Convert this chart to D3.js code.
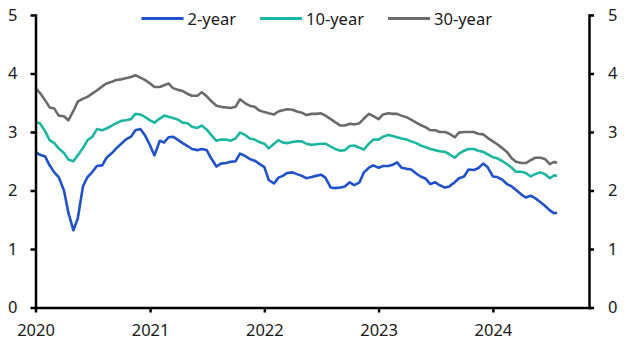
<!DOCTYPE html>
<html>
<head>
<meta charset="utf-8">
<script src="https://cdnjs.cloudflare.com/ajax/libs/d3/7.8.5/d3.min.js"></script>
<style>
  html, body { margin: 0; padding: 0; background: #ffffff; }
  #chart { width: 628px; height: 354px; }
  .axis path, .axis line { stroke: #000000; stroke-width: 2.5px; }
  .axis text { font-family: "Noto Sans", "Open Sans", sans-serif; font-size: 16.5px; fill: #1a1a1a; }
  .legend text { font-family: "Noto Sans", "Open Sans", sans-serif; font-size: 16.5px; fill: #1a1a1a; }
</style>
</head>
<body>
<div id="chart"></div>
<script>
// ----------------------------------------------------------------------------------------------------
// DATA - yields, % (semi-monthly readings)
// ----------------------------------------------------------------------------------------------------

var dates = [
    "2020-01-01","2020-01-15","2020-02-01","2020-02-15","2020-03-01","2020-03-15","2020-04-01","2020-04-15","2020-05-01","2020-05-15","2020-06-01","2020-06-15",
    "2020-07-01","2020-07-15","2020-08-01","2020-08-15","2020-09-01","2020-09-15","2020-10-01","2020-10-15","2020-11-01","2020-11-15","2020-12-01","2020-12-15",
    "2021-01-01","2021-01-15","2021-02-01","2021-02-15","2021-03-01","2021-03-15","2021-04-01","2021-04-15","2021-05-01","2021-05-15","2021-06-01","2021-06-15",
    "2021-07-01","2021-07-15","2021-08-01","2021-08-15","2021-09-01","2021-09-15","2021-10-01","2021-10-15","2021-11-01","2021-11-15","2021-12-01","2021-12-15",
    "2022-01-01","2022-01-15","2022-02-01","2022-02-15","2022-03-01","2022-03-15","2022-04-01","2022-04-15","2022-05-01","2022-05-15","2022-06-01","2022-06-15",
    "2022-07-01","2022-07-15","2022-08-01","2022-08-15","2022-09-01","2022-09-15","2022-10-01","2022-10-15","2022-11-01","2022-11-15","2022-12-01","2022-12-15",
    "2023-01-01","2023-01-15","2023-02-01","2023-02-15","2023-03-01","2023-03-15","2023-04-01","2023-04-15","2023-05-01","2023-05-15","2023-06-01","2023-06-15",
    "2023-07-01","2023-07-15","2023-08-01","2023-08-15","2023-09-01","2023-09-15","2023-10-01","2023-10-15","2023-11-01","2023-11-15","2023-12-01","2023-12-15",
    "2024-01-01","2024-01-15","2024-02-01","2024-02-15","2024-03-01","2024-03-15","2024-04-01","2024-04-15","2024-05-01","2024-05-15","2024-06-01","2024-06-15",
    "2024-07-01","2024-07-15","2024-07-24"
];

var twoYear = [
    2.66,2.61,2.58,2.43,2.31,2.23,2.00,1.62,1.32,1.52,2.08,2.23,2.32,2.42,2.43,2.56,2.64,2.72,2.80,2.87,2.92,3.03,3.05,2.95,
    2.77,2.60,2.85,2.82,2.91,2.92,2.86,2.81,2.76,2.71,2.69,2.71,2.69,2.55,2.41,2.46,2.47,2.49,2.50,2.63,2.59,2.54,2.51,2.46,
    2.40,2.18,2.12,2.22,2.25,2.30,2.31,2.28,2.25,2.21,2.23,2.25,2.27,2.22,2.05,2.04,2.05,2.07,2.14,2.09,2.14,2.31,2.39,2.43,
    2.39,2.42,2.42,2.44,2.48,2.39,2.37,2.36,2.29,2.24,2.20,2.11,2.14,2.09,2.05,2.07,2.14,2.21,2.24,2.36,2.35,2.38,2.46,2.40,
    2.24,2.23,2.18,2.11,2.07,2.01,1.93,1.88,1.91,1.87,1.80,1.74,1.66,1.61,1.62
];

var tenYear = [
    3.17,3.15,3.01,2.86,2.81,2.72,2.64,2.53,2.50,2.60,2.73,2.86,2.92,3.05,3.03,3.06,3.11,3.15,3.19,3.20,3.22,3.31,3.30,3.26,
    3.20,3.16,3.23,3.28,3.26,3.24,3.21,3.16,3.15,3.09,3.07,3.11,3.04,2.95,2.85,2.87,2.87,2.85,2.89,2.99,2.95,2.89,2.87,2.83,
    2.80,2.72,2.80,2.86,2.82,2.81,2.83,2.84,2.84,2.80,2.78,2.79,2.80,2.80,2.75,2.71,2.68,2.69,2.76,2.77,2.73,2.70,2.80,2.87,
    2.87,2.92,2.95,2.93,2.91,2.89,2.87,2.84,2.81,2.77,2.74,2.71,2.69,2.67,2.66,2.62,2.56,2.63,2.68,2.71,2.71,2.68,2.66,2.62,
    2.57,2.55,2.50,2.45,2.39,2.32,2.32,2.30,2.24,2.28,2.31,2.28,2.21,2.26,2.25
];

var thirtyYear = [
    3.75,3.67,3.54,3.42,3.40,3.28,3.27,3.20,3.36,3.52,3.57,3.60,3.66,3.71,3.78,3.83,3.86,3.89,3.90,3.92,3.94,3.97,3.93,3.89,
    3.83,3.77,3.77,3.80,3.83,3.75,3.72,3.70,3.65,3.62,3.62,3.68,3.61,3.53,3.45,3.43,3.42,3.41,3.43,3.56,3.49,3.45,3.43,3.37,
    3.34,3.32,3.30,3.35,3.37,3.39,3.38,3.35,3.33,3.29,3.31,3.31,3.32,3.28,3.22,3.17,3.11,3.11,3.14,3.13,3.15,3.23,3.31,3.27,
    3.22,3.30,3.32,3.31,3.31,3.28,3.25,3.21,3.16,3.12,3.08,3.03,3.03,3.00,3.00,2.97,2.91,2.99,3.00,3.00,3.00,2.97,2.96,2.90,
    2.84,2.79,2.72,2.66,2.55,2.49,2.47,2.47,2.52,2.56,2.56,2.54,2.45,2.49,2.47
];

var seriesNames = ["2-year", "10-year", "30-year"];
var seriesColors = ["#2152c9", "#1db7a1", "#6b6b6b"];
var yTicks = [0, 1, 2, 3, 4, 5];
var xTickYears = ["2020", "2021", "2022", "2023", "2024"];

// ----------------------------------------------------------------------------------------------------
// CHART
// ----------------------------------------------------------------------------------------------------

function chartYields_Draw(ele) {
    ele = "#" + ele;

    var w = 628;
    var h = 354;
    var left = 35.5, right = 589, top = 15, bottom = 307.5;

    var parse = d3.timeParse("%Y-%m-%d");
    var t = dates.map(parse);

    var x = d3.scaleTime()
        .domain([parse("2020-01-01"), parse("2024-11-03")])
        .range([left, right]);
    var y = d3.scaleLinear()
        .domain([0, 5])
        .range([bottom, top]);

    var svg = d3.select(ele)
        .append("svg")
        .attr("width", w)
        .attr("height", h);

        // Lines
        var values = [twoYear, tenYear, thirtyYear];
        var line = d3.line()
            .x(function(d, i) { return x(t[i]); })
            .y(function(d) { return y(d); });

        svg.selectAll(".series")
            .data(values)
            .enter()
            .append("path")
            .attr("class", "series")
            .attr("fill", "none")
            .attr("stroke", function(d, i) { return seriesColors[i]; })
            .attr("stroke-width", 2.6)
            .attr("stroke-linejoin", "round")
            .attr("d", line);

        // Axes
        svg.append("g")
            .attr("class", "axis")
            .attr("transform", "translate(" + left + ",0)")
            .call(d3.axisLeft(y).tickValues(yTicks).tickSize(5).tickSizeOuter(0).tickPadding(13).tickFormat(d3.format("d")));

        svg.append("g")
            .attr("class", "axis")
            .attr("transform", "translate(" + right + ",0)")
            .call(d3.axisRight(y).tickValues(yTicks).tickSize(5).tickSizeOuter(0).tickPadding(14).tickFormat(d3.format("d")));

        svg.append("g")
            .attr("class", "axis")
            .attr("transform", "translate(0," + bottom + ")")
            .call(d3.axisBottom(x)
                .tickValues(xTickYears.map(function(d) { return parse(d + "-01-01"); }))
                .tickSize(5).tickSizeOuter(0).tickPadding(12)
                .tickFormat(d3.timeFormat("%Y")));

        svg.selectAll(".axis .domain").attr("stroke-linecap", "square");

        // Legend
        var legendX = [141.5, 260, 388];
        var legend = svg.selectAll(".legend")
            .data(seriesNames)
            .enter()
            .append("g")
            .attr("class", "legend")
            .attr("transform", function(d, i) { return "translate(" + legendX[i] + ",18.5)"; });

        legend.append("line")
            .attr("x1", 0)
            .attr("x2", 42)
            .attr("stroke", function(d, i) { return seriesColors[i]; })
            .attr("stroke-width", 3);

        legend.append("text")
            .attr("x", 46)
            .attr("y", 6.5)
            .text(function(d) { return d; });
}

chartYields_Draw("chart");
</script>
</body>
</html>
